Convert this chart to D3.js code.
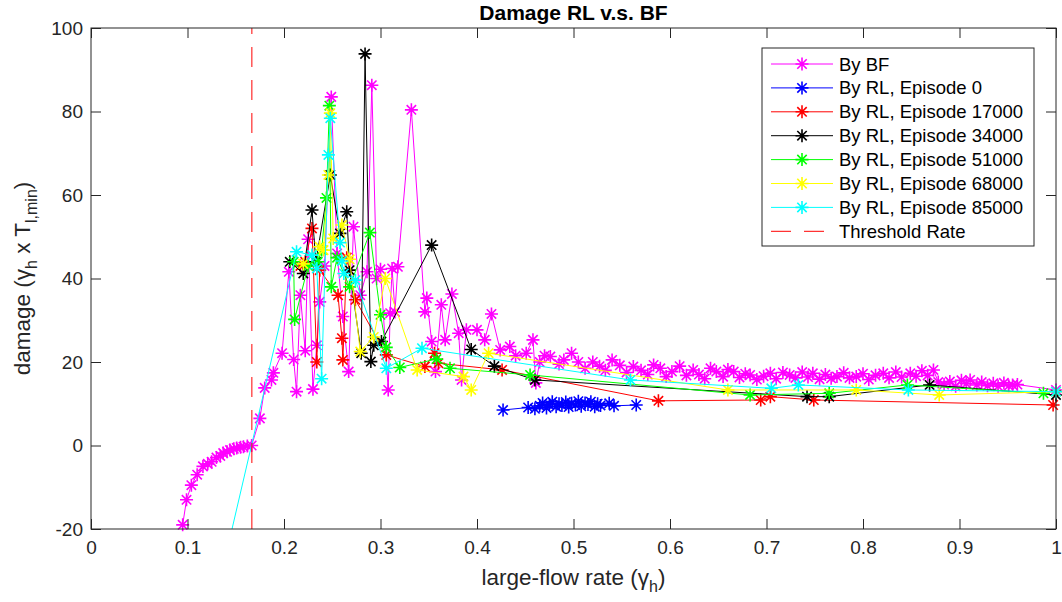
<!DOCTYPE html>
<html><head><meta charset="utf-8">
<script src="https://cdn.jsdelivr.net/npm/d3@7"></script>
<style>
html,body{margin:0;padding:0;background:#fff;}
svg{display:block;font-family:"Liberation Sans",Arial,Helvetica,sans-serif;}
</style></head>
<body>
<svg id="chart" width="1062" height="602"></svg>
<script>
// ---------- DATA ----------
const xTicks = [0,0.1,0.2,0.3,0.4,0.5,0.6,0.7,0.8,0.9,1];
const xTickLabels = ["0","0.1","0.2","0.3","0.4","0.5","0.6","0.7","0.8","0.9","1"];
const yTicks = [-20,0,20,40,60,80,100];
const yTickLabels = ["-20","0","20","40","60","80","100"];
const thresholdRate = 0.1667;

const bfX = [0.095,0.099,0.104,0.11,0.116,0.121,0.125,0.13,0.134,0.137,0.141,0.144,0.148,0.151,0.155,0.158,0.162,0.1665,0.175,0.18,0.187,0.189,0.198,0.205,0.21,0.213,0.217,0.222,0.225,0.23,0.234,0.237,0.242,0.249,0.255,0.261,0.267,0.272,0.279,0.286,0.291,0.296,0.3,0.308,0.31,0.312,0.315,0.318,0.332,0.346,0.348,0.353,0.357,0.363,0.367,0.374,0.381,0.384,0.389,0.4,0.408,0.415,0.424,0.434,0.44,0.451,0.458,0.461,0.465,0.47,0.476,0.485,0.49,0.498,0.505,0.512,0.52,0.527,0.533,0.54,0.548,0.555,0.562,0.57,0.577,0.583,0.59,0.596,0.602,0.61,0.617,0.624,0.63,0.636,0.642,0.648,0.655,0.66,0.666,0.672,0.678,0.683,0.69,0.697,0.704,0.71,0.717,0.724,0.73,0.737,0.743,0.748,0.755,0.761,0.767,0.773,0.78,0.786,0.793,0.8,0.806,0.813,0.821,0.827,0.834,0.84,0.849,0.855,0.861,0.867,0.873,0.878,0.884,0.89,0.896,0.902,0.907,0.911,0.918,0.923,0.929,0.935,0.94,0.946,0.951,0.955,0.96,1.0];
const bfY = [-19,-13,-9.5,-7,-5,-4.4,-3.9,-2.9,-2.5,-1.8,-1.5,-1.1,-0.8,-0.6,-0.4,-0.3,-0.1,0,6.5,13.8,15.7,17.4,22.1,41.6,20.6,12.9,36,22.7,49.4,13.5,24,34.4,43,83.5,46,30.9,17.7,52.4,36,41.6,86.3,40,42.2,13.3,31.7,42.4,32,42.8,80.4,32,35.3,24.9,17.7,33.7,25.3,36.3,26.9,15.7,27.7,27.7,25.3,31.5,22.9,23.7,21.5,22.1,25.3,15,20,21.5,21.3,19.5,20.5,22.1,20,18.5,20,19,18,20.5,19.2,17.5,18.9,18,17,19.3,18.5,16.5,17.7,19,16.8,18.1,17,16,18.5,17.7,16.5,18.2,17.7,16.3,17.2,16.9,15.8,16.6,17.3,16,17.5,16.9,16.2,17.6,16.4,17.3,15.9,17,16.1,16.5,17.4,16.2,16.5,17.2,15.8,16.8,17.3,16.2,17.6,16.4,17.3,16.6,17.9,16.8,18.1,15.2,14.6,15.3,14.2,15.6,14.8,15.7,14.5,15.2,14.3,14.9,14.2,15,14.3,14.5,14.6,13.3];

const ep0X = [0.427,0.453,0.46,0.465,0.468,0.472,0.475,0.478,0.482,0.485,0.488,0.492,0.495,0.498,0.502,0.505,0.508,0.512,0.515,0.518,0.522,0.525,0.528,0.537,0.542,0.565];
const ep0Y = [8.5,9.1,8.8,9.5,10.2,9.0,9.8,10.5,9.3,10.0,9.6,10.4,9.2,10.1,9.7,10.6,9.4,10.2,9.8,10.5,9.3,10.0,9.6,10.1,9.5,9.7];

const ep17X = [0.217,0.222,0.229,0.234,0.237,0.256,0.26,0.261,0.265,0.274,0.306,0.346,0.356,0.36,0.426,0.588,0.694,0.704,0.749,0.997];
const ep17Y = [43,44,52,20,42,36,25.7,20.5,45,34.9,21.7,18.9,22.1,19.7,18.1,10.7,10.9,11.7,10.9,9.7];

const ep34X = [0.206,0.22,0.229,0.233,0.248,0.258,0.265,0.268,0.28,0.284,0.29,0.293,0.301,0.353,0.394,0.418,0.46,0.742,0.765,0.869,1.0];
const ep34Y = [44,41.2,56.4,44,64.8,50.8,56,42,22.1,93.8,20.1,24,24.9,48,23,19,15.7,11.7,11.7,14.5,12.1];

const ep51X = [0.21,0.211,0.225,0.235,0.239,0.244,0.247,0.249,0.255,0.268,0.289,0.3,0.306,0.32,0.358,0.372,0.455,0.683,0.765,0.846,0.987];
const ep51Y = [44,30.2,43,44,46.8,59.3,81.4,38,45,38,51,31.3,23.5,18.7,20.7,18.5,16.9,12.1,12.5,14.5,12.5];

const ep68X = [0.22,0.237,0.241,0.246,0.248,0.251,0.26,0.268,0.279,0.293,0.305,0.338,0.386,0.394,0.412,0.66,0.793,0.879,1.0];
const ep68Y = [43.5,47.6,46.8,64.8,79.6,49.6,52.8,44.6,22.5,26,40,18.1,16.5,13.3,22.1,13.3,13.3,12.1,12.9];

const ep85X = [0.125,0.213,0.229,0.234,0.239,0.246,0.248,0.258,0.26,0.262,0.274,0.306,0.343,0.559,0.705,0.733,0.847,1.0];
const ep85Y = [-41,46.4,45.6,42.4,16,69.6,78.4,48.6,44.2,41.2,39.6,18.5,23.3,15.7,13.7,14.5,13.3,12.9];

const seriesNames = ["By BF","By RL, Episode 0","By RL, Episode 17000","By RL, Episode 34000","By RL, Episode 51000","By RL, Episode 68000","By RL, Episode 85000"];
const seriesColors = ["#ff00ff","#0000ff","#ff0000","#000000","#00ff00","#ffff00","#00ffff"];
const thresholdName = "Threshold Rate";
const thresholdColor = "#ff0000";

// ---------- CHART ----------
const svg = d3.select("#chart");
const L = 91, R = 1056, T = 28, B = 529;
const axisColor = "#262626";
const x = d3.scaleLinear().domain([0,1]).range([L,R]);
const y = d3.scaleLinear().domain([-20,100]).range([B,T]);

svg.append("defs").append("clipPath").attr("id","plotclip")
  .append("rect").attr("x",L).attr("y",T).attr("width",R-L).attr("height",B-T);

const seriesX = [bfX,ep0X,ep17X,ep34X,ep51X,ep68X,ep85X];
const seriesY = [bfY,ep0Y,ep17Y,ep34Y,ep51Y,ep68Y,ep85Y];

const line = d3.line().x(d=>x(d[0])).y(d=>y(d[1]));
const rS = 6.5, dS = 4.7;
const starPath = `M0,${-rS}L0,${rS}M${-rS},0L${rS},0M${-dS},${-dS}L${dS},${dS}M${-dS},${dS}L${dS},${-dS}`;

const gData = svg.append("g");
seriesX.forEach((xs,i)=>{
  const pts = xs.map((v,j)=>[v,seriesY[i][j]]);
  const g = gData.append("g");
  g.append("path").attr("d",line(pts)).attr("fill","none")
    .attr("stroke",seriesColors[i]).attr("stroke-width",1)
    .attr("clip-path","url(#plotclip)");
  g.selectAll("path.m").data(pts.filter(p=>p[0]>=0&&p[0]<=1&&p[1]>=-20&&p[1]<=100)).enter()
    .append("path").attr("class","m")
    .attr("transform",d=>`translate(${x(d[0])},${y(d[1])})`)
    .attr("d",starPath).attr("fill","none")
    .attr("stroke",seriesColors[i]).attr("stroke-width",1.6);
});

// threshold
svg.append("line").attr("x1",x(thresholdRate)).attr("x2",x(thresholdRate))
  .attr("y1",y(-20)).attr("y2",y(100))
  .attr("stroke",thresholdColor).attr("stroke-width",1).attr("stroke-dasharray","20,13");

// axes
const fmtX = (d,i)=>xTickLabels[i];
const fmtY = (d,i)=>yTickLabels[i];
const ax = svg.append("g").attr("transform",`translate(0,${B})`)
  .call(d3.axisBottom(x).tickValues(xTicks).tickFormat(fmtX).tickSizeInner(-10).tickSizeOuter(0).tickPadding(12));
const ay = svg.append("g").attr("transform",`translate(${L},0)`)
  .call(d3.axisLeft(y).tickValues(yTicks).tickFormat(fmtY).tickSizeInner(-10).tickSizeOuter(0).tickPadding(8));
const axT = svg.append("g").attr("transform",`translate(0,${T})`)
  .call(d3.axisTop(x).tickValues(xTicks).tickFormat("").tickSizeInner(-10).tickSizeOuter(0));
const ayR = svg.append("g").attr("transform",`translate(${R},0)`)
  .call(d3.axisRight(y).tickValues(yTicks).tickFormat("").tickSizeInner(-10).tickSizeOuter(0));
[ax,ay,axT,ayR].forEach(a=>{
  a.select(".domain").remove();
  a.selectAll("line").attr("stroke",axisColor);
  a.selectAll("text").attr("fill",axisColor).style("font-size","19px")
    .style("font-family",'"Liberation Sans",Arial,sans-serif');
});
svg.append("rect").attr("x",L).attr("y",T).attr("width",R-L).attr("height",B-T)
  .attr("fill","none").attr("stroke",axisColor).attr("stroke-width",1);

// title
svg.append("text").attr("x",(L+R)/2).attr("y",20).attr("text-anchor","middle")
  .style("font-size","21px").style("font-weight","bold").attr("fill","#000")
  .text("Damage RL v.s. BF");

// x label
const xl = svg.append("text").attr("x",(L+R)/2).attr("y",585).attr("text-anchor","middle")
  .style("font-size","22.5px").attr("fill",axisColor);
xl.append("tspan").text("large-flow rate (");
xl.append("tspan").text("γ");
xl.append("tspan").attr("dy",7).style("font-size","16px").text("h");
xl.append("tspan").attr("dy",-7).text(")");

// y label
const yl = svg.append("text").attr("transform",`translate(30,${(T+B)/2}) rotate(-90)`)
  .attr("text-anchor","middle").style("font-size","22.5px").attr("fill",axisColor);
yl.append("tspan").text("damage (");
yl.append("tspan").text("γ");
yl.append("tspan").attr("dy",7).style("font-size","16px").text("h");
yl.append("tspan").attr("dy",-7).text(" x T");
yl.append("tspan").attr("dy",7).style("font-size","16px").text("l,min");
yl.append("tspan").attr("dy",-7).text(")");

// legend
const lg = svg.append("g");
const lgX = 762, lgY = 48, lgW = 272, lgH = 198, rowH = 23.9, row0 = 64;
lg.append("rect").attr("x",lgX).attr("y",lgY).attr("width",lgW).attr("height",lgH)
  .attr("fill","#fff").attr("stroke",axisColor).attr("stroke-width",1);
seriesNames.forEach((n,i)=>{
  const cy = row0 + i*rowH;
  lg.append("line").attr("x1",771).attr("x2",833).attr("y1",cy).attr("y2",cy)
    .attr("stroke",seriesColors[i]).attr("stroke-width",1);
  lg.append("path").attr("transform",`translate(802,${cy})`).attr("d",starPath)
    .attr("fill","none").attr("stroke",seriesColors[i]).attr("stroke-width",1.6);
  lg.append("text").attr("x",839).attr("y",cy+6.5).style("font-size","18.5px").attr("fill","#000").text(n);
});
{
  const cy = row0 + 7*rowH;
  lg.append("line").attr("x1",771).attr("x2",833).attr("y1",cy).attr("y2",cy)
    .attr("stroke",thresholdColor).attr("stroke-width",1).attr("stroke-dasharray","20,13");
  lg.append("text").attr("x",839).attr("y",cy+6.5).style("font-size","18.5px").attr("fill","#000").text(thresholdName);
}
</script>
</body></html>
